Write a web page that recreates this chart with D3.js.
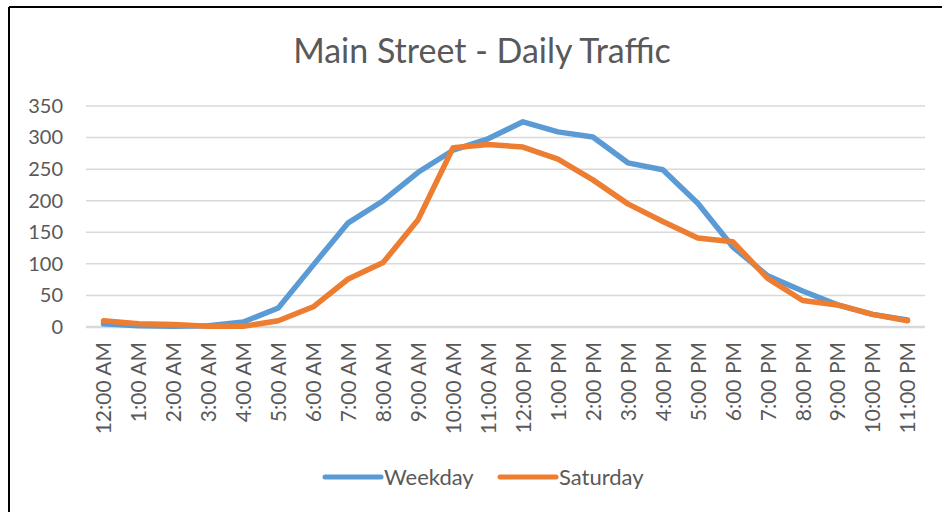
<!DOCTYPE html>
<html lang="en">
<head>
    <meta charset="UTF-8">
    <title>Main Street - Daily Traffic</title>
    <script src="https://d3js.org/d3.v7.min.js"></script>
    <style>
        body { margin: 0; background: #fff; }
        text { font-family: Lato, "Open Sans", sans-serif; fill: #595959; }
    </style>
</head>
<body>
    <script>
        const hours = ["12:00 AM","1:00 AM","2:00 AM","3:00 AM","4:00 AM","5:00 AM","6:00 AM","7:00 AM",
                       "8:00 AM","9:00 AM","10:00 AM","11:00 AM","12:00 PM","1:00 PM","2:00 PM","3:00 PM",
                       "4:00 PM","5:00 PM","6:00 PM","7:00 PM","8:00 PM","9:00 PM","10:00 PM","11:00 PM"];
        const weekday = [5, 2, 1, 2, 8, 30, 98, 165, 200, 245, 280, 298, 325, 309, 301, 260,
                         249, 196, 127, 81, 57, 35, 20, 11];
        const saturday = [10, 5, 4, 1, 1, 10, 32, 76, 102, 170, 284, 289, 285, 266, 233, 195,
                          167, 141, 135, 77, 42, 35, 20, 10];
        const yTicks = [0, 50, 100, 150, 200, 250, 300, 350];
        const seriesNames = ["Weekday", "Saturday"];
        const colors = ["#5b9bd5", "#ed7d31"];

        const width = 942, height = 512;
        const plot = {left: 86, right: 925, top: 106, bottom: 327};

        const svg = d3.select("body").append("svg")
            .attr("width", width)
            .attr("height", height);

        // frame edges (only top and left show in the picture)
        svg.append("line").attr("x1", 9).attr("x2", width).attr("y1", 7).attr("y2", 7)
            .attr("stroke", "#000").attr("stroke-width", 2);
        svg.append("line").attr("x1", 9).attr("x2", 9).attr("y1", 7).attr("y2", height)
            .attr("stroke", "#000").attr("stroke-width", 2);

        svg.append("text")
            .attr("x", 482).attr("y", 63)
            .attr("text-anchor", "middle")
            .style("font-size", "34px")
            .text("Main Street - Daily Traffic");

        const x = d3.scalePoint().domain(hours).range([plot.left, plot.right]).padding(0.5);
        const y = d3.scaleLinear().domain([0, 350]).range([plot.bottom, plot.top]);

        // gridlines
        svg.append("g").selectAll("line").data(yTicks).enter().append("line")
            .attr("x1", plot.left).attr("x2", plot.right)
            .attr("y1", d => y(d)).attr("y2", d => y(d))
            .attr("stroke", "#d9d9d9").attr("stroke-width", d => d === 0 ? 2.5 : 1.5);

        const yAxis = svg.append("g")
            .attr("transform", `translate(${plot.left},0)`)
            .call(d3.axisLeft(y).tickValues(yTicks).tickSize(0).tickPadding(23));
        yAxis.select(".domain").remove();
        yAxis.selectAll("text").style("font-size", "20px").style("font-family", "Lato, sans-serif").attr("fill", "#595959");

        const xAxis = svg.append("g")
            .attr("transform", `translate(0,${plot.bottom})`)
            .call(d3.axisBottom(x).tickSize(0).tickPadding(0));
        xAxis.select(".domain").remove();
        xAxis.selectAll("text")
            .style("font-size", "21px").style("font-family", "Lato, sans-serif").attr("fill", "#595959")
            .attr("text-anchor", "end")
            .attr("transform", "rotate(-90)")
            .attr("x", -15).attr("y", 0).attr("dy", "0.35em");

        const line = d3.line().x((d, i) => x(hours[i])).y(d => y(d));
        [weekday, saturday].forEach((s, k) => {
            svg.append("path").datum(s)
                .attr("d", line)
                .attr("fill", "none")
                .attr("stroke", colors[k])
                .attr("stroke-width", 5.5)
                .attr("stroke-linejoin", "round")
                .attr("stroke-linecap", "round");
        });

        // legend
        const legendX = [325, 500];
        const legend = svg.append("g").selectAll("g").data(seriesNames).enter().append("g")
            .attr("transform", (d, i) => `translate(${legendX[i]},477)`);
        legend.append("line").attr("x1", 0).attr("x2", 56)
            .attr("stroke", (d, i) => colors[i]).attr("stroke-width", 5).attr("stroke-linecap", "round");
        legend.append("text").attr("x", 59).attr("dy", "0.35em")
            .style("font-size", "22px").text(d => d);
    </script>
</body>
</html>
